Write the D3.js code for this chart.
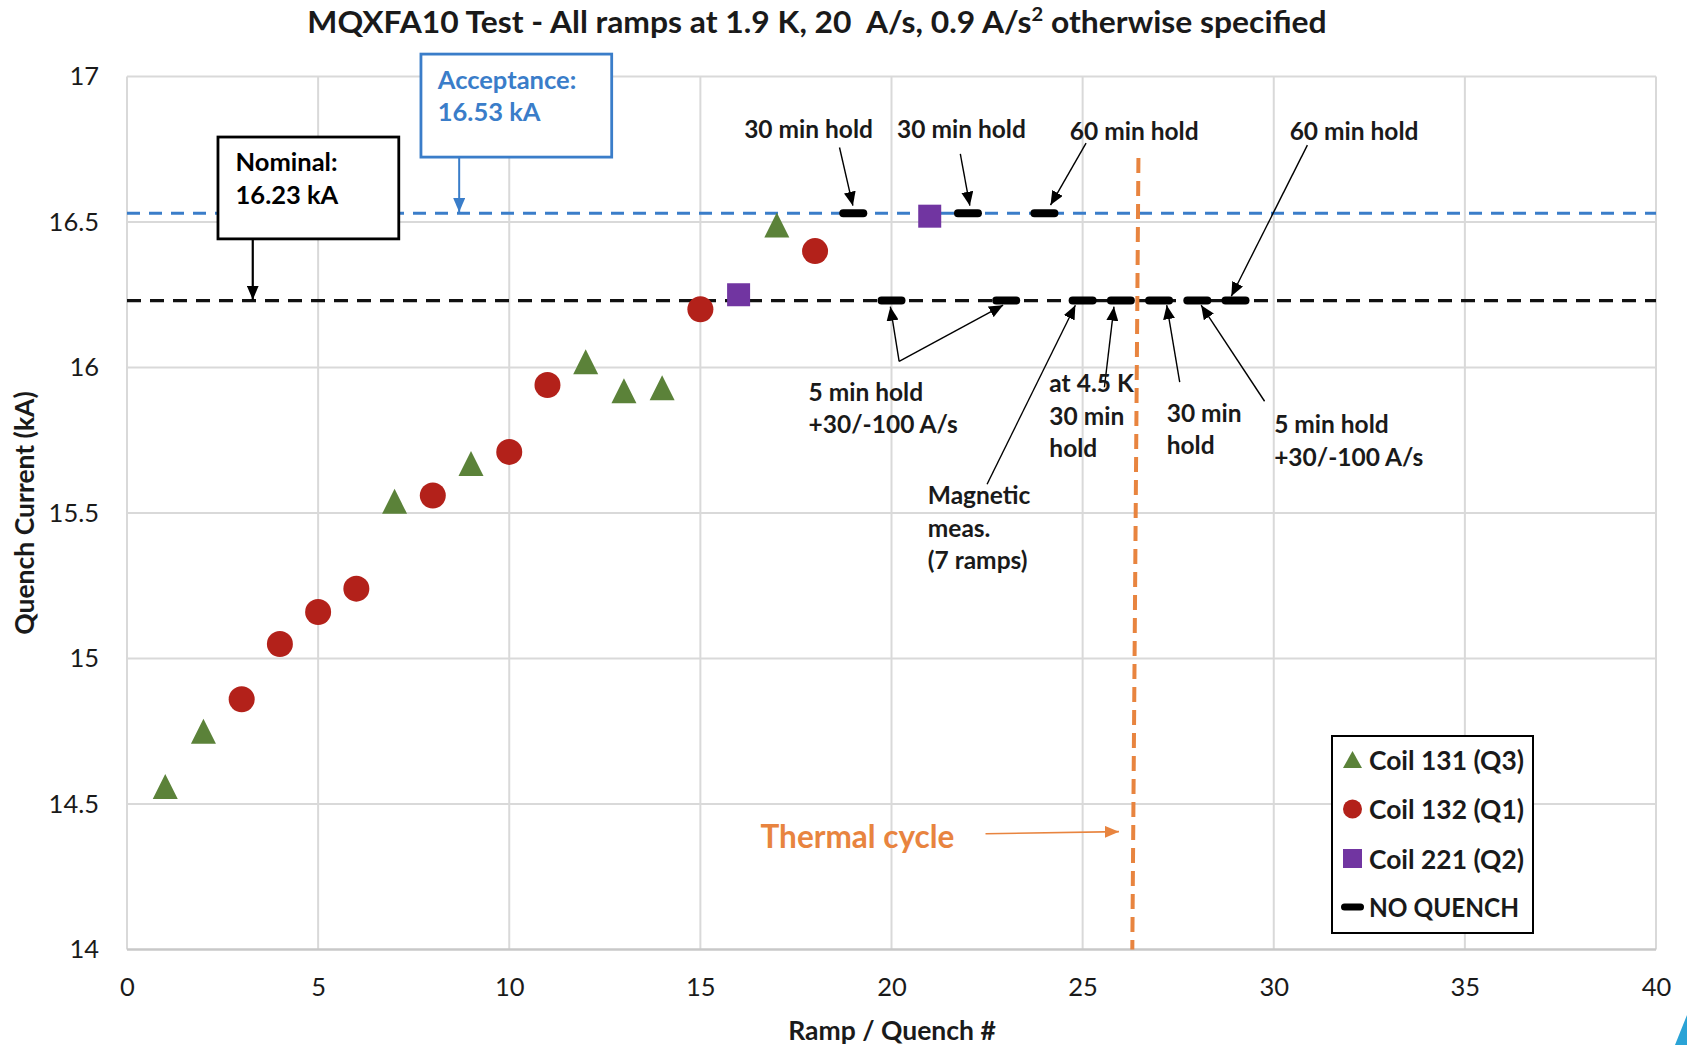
<!DOCTYPE html>
<html><head><meta charset="utf-8">
<script src="https://cdn.jsdelivr.net/npm/d3@7"></script>
<style>
body{margin:0;background:#fff}
svg{display:block}
text{font-family:Lato,"Open Sans",sans-serif}
</style>
</head><body>
<svg id="c" width="1687" height="1045"></svg>
<script>
// ---------- data ----------
const xTicks = [0,5,10,15,20,25,30,35,40];
const yTicks = [14,14.5,15,15.5,16,16.5,17];
const yTickLabels = ["14","14.5","15","15.5","16","16.5","17"];

const coil131 = [[1,14.56],[2,14.75],[7,15.54],[9,15.67],[12,16.02],[13,15.92],[14,15.93],[17,16.49]];
const coil132 = [[3,14.86],[4,15.05],[5,15.16],[6,15.24],[8,15.56],[10,15.71],[11,15.94],[15,16.20],[18,16.40]];
const coil221 = [[16,16.25],[21,16.52]];
const noQuench = [[19,16.53],[22,16.53],[24,16.53],[20,16.23],[23,16.23],[25,16.23],[26,16.23],[27,16.23],[28,16.23],[29,16.23]];

const nominal = 16.23;
const acceptance = 16.53;
const thermalCycle = [[26.46,16.72],[26.30,14]];

const legendLabels = ["Coil 131 (Q3)","Coil 132 (Q1)","Coil 221 (Q2)","NO QUENCH"];

// annotation texts (data coords of first line centre)
const notes = [
  {lines:["30 min hold"], x:17.83, y:16.820, anchor:"middle"},
  {lines:["30 min hold"], x:21.83, y:16.823, anchor:"middle"},
  {lines:["60 min hold"], x:26.35, y:16.816, anchor:"middle"},
  {lines:["60 min hold"], x:32.10, y:16.816, anchor:"middle"},
  {lines:["5 min hold","+30/-100 A/s"], x:17.83, y:15.917, anchor:"start"},
  {lines:["at 4.5 K","30 min","hold"], x:24.13, y:15.947, anchor:"start"},
  {lines:["Magnetic","meas.","(7 ramps)"], x:20.95, y:15.562, anchor:"start"},
  {lines:["30 min","hold"], x:27.20, y:15.847, anchor:"start"},
  {lines:["5 min hold","+30/-100 A/s"], x:30.01, y:15.806, anchor:"start"}
];
// annotation arrows [x1,y1,x2,y2] (tip at x2,y2)
const arrows = [
  [18.64,16.756,18.99,16.556],
  [21.80,16.734,22.05,16.556],
  [25.09,16.771,24.16,16.558],
  [30.88,16.764,28.89,16.245],
  [20.20,16.021,19.97,16.209],
  [20.20,16.021,22.92,16.214],
  [25.57,15.932,25.82,16.209],
  [22.50,15.599,24.81,16.214],
  [27.54,15.950,27.20,16.214],
  [29.76,15.884,28.10,16.214]
];

// ---------- setup ----------
const svg = d3.select("#c");
const x = d3.scaleLinear().domain([0,40]).range([127,1656]);
const y = d3.scaleLinear().domain([14,17]).range([949.5,76.5]);

const C = {green:"#5b8239", red:"#b3211a", purple:"#7135a1", blue:"#3a7dc9", orange:"#e8843f", grid:"#d9d9d9"};

const defs = svg.append("defs");
function mk(id,color,w,h){
  defs.append("marker").attr("id",id).attr("viewBox",`0 0 ${w} ${h}`)
    .attr("refX",w).attr("refY",h/2).attr("markerWidth",w).attr("markerHeight",h)
    .attr("markerUnits","userSpaceOnUse").attr("orient","auto")
    .append("path").attr("d",`M0,0L${w},${h/2}L0,${h}Z`).attr("fill",color);
}
mk("ab","#000",14,12);
mk("ablue",C.blue,14,12);
mk("aor",C.orange,14,12);

// ---------- grid ----------
const g = svg.append("g");
g.selectAll(".vg").data(xTicks).join("line")
  .attr("x1",d=>x(d)).attr("x2",d=>x(d)).attr("y1",y(17)).attr("y2",y(14))
  .attr("stroke",C.grid).attr("stroke-width",2);
g.selectAll(".hg").data(yTicks).join("line")
  .attr("x1",x(0)).attr("x2",x(40)).attr("y1",d=>y(d)).attr("y2",d=>y(d))
  .attr("stroke",d=>d===14?"#c8c8c8":C.grid).attr("stroke-width",d=>d===14?2.5:2);

// ---------- axes ----------
const xAxis = svg.append("g").attr("transform",`translate(0,${y(14)})`)
  .call(d3.axisBottom(x).tickValues(xTicks).tickSize(0).tickPadding(28));
const yAxis = svg.append("g").attr("transform",`translate(${x(0)},0)`)
  .call(d3.axisLeft(y).tickValues(yTicks).tickFormat((d,i)=>yTickLabels[i]).tickSize(0).tickPadding(28));
[xAxis,yAxis].forEach(a=>{
  a.select(".domain").remove();
  a.selectAll("text").attr("font-family","Lato").attr("font-size",25.5).attr("fill","#1a1a1a");
});

svg.append("text").attr("x",892).attr("y",1030).attr("text-anchor","middle").attr("dominant-baseline","central")
  .attr("font-size",26.5).attr("font-weight","bold").attr("fill","#1a1a1a").text("Ramp / Quench #");
svg.append("text").attr("transform","translate(24,513) rotate(-90)").attr("text-anchor","middle").attr("dominant-baseline","central")
  .attr("font-size",26.5).attr("font-weight","bold").attr("fill","#1a1a1a").text("Quench Current (kA)");

// ---------- title ----------
const title = svg.append("text").attr("text-anchor","middle").attr("font-size",30).attr("font-weight","bold")
  .attr("fill","#1a1a1a").style("white-space","pre");
title.append("tspan").text("MQXFA10 Test - All ramps at 1.9 K, 20  A/s, 0.9 A/s");
title.append("tspan").attr("font-size",19).attr("dy",-12).text("2");
title.append("tspan").attr("dy",12).text(" otherwise specified");
const tl = title.node().getComputedTextLength();
title.attr("transform",`translate(817,33) scale(${1020/tl},1)`);

// ---------- reference lines ----------
svg.append("line").attr("x1",x(0)).attr("x2",x(40)).attr("y1",y(acceptance)).attr("y2",y(acceptance))
  .attr("stroke",C.blue).attr("stroke-width",3.2).attr("stroke-dasharray","13 9");
svg.append("line").attr("x1",x(0)).attr("x2",x(40)).attr("y1",y(nominal)).attr("y2",y(nominal))
  .attr("stroke","#111").attr("stroke-width",3.2).attr("stroke-dasharray","14 9");
svg.append("line").attr("x1",x(thermalCycle[0][0])).attr("y1",y(thermalCycle[0][1]))
  .attr("x2",x(thermalCycle[1][0])).attr("y2",y(thermalCycle[1][1]))
  .attr("stroke",C.orange).attr("stroke-width",4).attr("stroke-dasharray","15 8");

// ---------- boxes ----------
function box(x0,x1,y0,y1,color,lines,tx,ty){
  svg.append("rect").attr("x",x(x0)).attr("y",y(y0)).attr("width",x(x1)-x(x0)).attr("height",y(y1)-y(y0))
    .attr("fill","#fff").attr("stroke",color).attr("stroke-width",2.8);
  lines.forEach((l,i)=>svg.append("text").attr("x",x(tx)).attr("y",y(ty)+i*32.3)
    .attr("dominant-baseline","central").attr("font-size",25.5).attr("font-weight","bold").attr("fill",color).text(l));
}
box(7.69,12.68,17.077,16.723,C.blue,["Acceptance:","16.53 kA"],8.13,16.993);
svg.append("line").attr("x1",x(8.69)).attr("x2",x(8.69)).attr("y1",y(16.723)).attr("y2",y(16.534))
  .attr("stroke",C.blue).attr("stroke-width",2).attr("marker-end","url(#ablue)");
box(2.38,7.11,16.792,16.442,"#000",["Nominal:","16.23 kA"],2.84,16.708);
svg.append("line").attr("x1",x(3.29)).attr("x2",x(3.29)).attr("y1",y(16.442)).attr("y2",y(16.233))
  .attr("stroke","#000").attr("stroke-width",2.2).attr("marker-end","url(#ab)");

// ---------- markers ----------
const tri = (w,h)=>`M0,${-h/2}L${w/2},${h/2}L${-w/2},${h/2}Z`;
svg.append("g").selectAll("path").data(coil131).join("path")
  .attr("transform",d=>`translate(${x(d[0])},${y(d[1])})`).attr("d",tri(25,25)).attr("fill",C.green);
svg.append("g").selectAll("circle").data(coil132).join("circle")
  .attr("cx",d=>x(d[0])).attr("cy",d=>y(d[1])).attr("r",13).attr("fill",C.red);
svg.append("g").selectAll("rect").data(coil221).join("rect")
  .attr("x",d=>x(d[0])-11.5).attr("y",d=>y(d[1])-11.5).attr("width",23).attr("height",23).attr("fill",C.purple);
svg.append("g").selectAll("rect").data(noQuench).join("rect")
  .attr("x",d=>x(d[0])-14).attr("y",d=>y(d[1])-4).attr("width",28).attr("height",8).attr("rx",4).attr("fill","#000");

// ---------- annotations ----------
svg.append("g").selectAll("line").data(arrows).join("line")
  .attr("x1",d=>x(d[0])).attr("y1",d=>y(d[1])).attr("x2",d=>x(d[2])).attr("y2",d=>y(d[3]))
  .attr("stroke","#000").attr("stroke-width",1.4).attr("marker-end","url(#ab)");
notes.forEach(n=>{
  n.lines.forEach((l,i)=>svg.append("text").attr("x",x(n.x)).attr("y",y(n.y)+i*32.3)
    .attr("text-anchor",n.anchor).attr("dominant-baseline","central")
    .attr("font-size",24.5).attr("font-weight","bold").attr("fill","#1a1a1a").text(l));
});
svg.append("text").attr("x",x(19.11)).attr("y",y(14.39)).attr("text-anchor","middle").attr("dominant-baseline","central")
  .attr("font-size",31.5).attr("font-weight","bold").attr("fill",C.orange).text("Thermal cycle");
svg.append("line").attr("x1",x(22.46)).attr("y1",y(14.398)).attr("x2",x(25.95)).attr("y2",y(14.405))
  .attr("stroke",C.orange).attr("stroke-width",1.6).attr("marker-end","url(#aor)");

// ---------- legend ----------
const lg = svg.append("g").attr("transform","translate(1332,736)");
lg.append("rect").attr("width",201).attr("height",197).attr("fill","#fff").attr("stroke","#000").attr("stroke-width",2);
const rows = [23.5,73,122.5,171];
const li = lg.selectAll("g").data(legendLabels).join("g").attr("transform",(d,i)=>`translate(0,${rows[i]})`);
li.append("text").attr("x",37).attr("dominant-baseline","central").attr("font-size",26).attr("font-weight","bold")
  .attr("fill","#1a1a1a").attr("textLength",(d,i)=>i===3?150:155).attr("lengthAdjust","spacingAndGlyphs").text(d=>d);
li.each(function(d,i){
  const s = d3.select(this);
  if(i===0) s.append("path").attr("transform","translate(20.5,0)").attr("d",tri(19,17)).attr("fill",C.green);
  if(i===1) s.append("circle").attr("cx",20.5).attr("r",9.5).attr("fill",C.red);
  if(i===2) s.append("rect").attr("x",11).attr("y",-9.5).attr("width",19).attr("height",19).attr("fill",C.purple);
  if(i===3) s.append("rect").attr("x",9).attr("y",-3.5).attr("width",23).attr("height",7).attr("rx",3.5).attr("fill","#000");
});

// slide corner decoration
svg.append("path").attr("d","M1675,1045L1687,1015L1687,1045Z").attr("fill","#2aa3d6");
</script>
</body></html>
